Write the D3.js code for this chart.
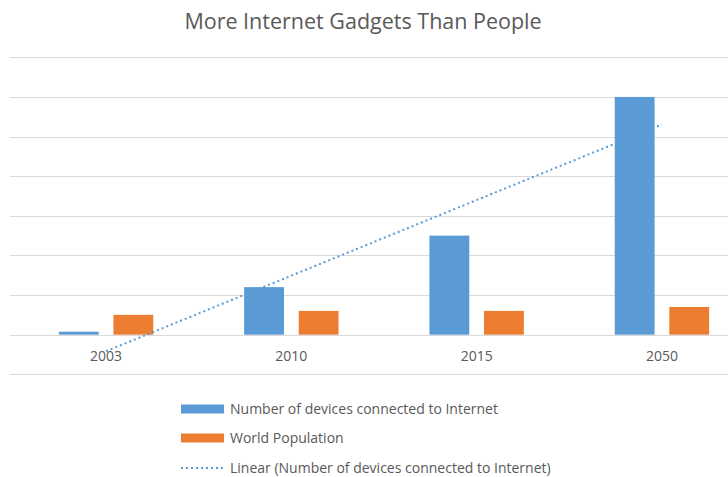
<!DOCTYPE html>
<html>
<head>
<meta charset="utf-8">
<script src="https://cdn.jsdelivr.net/npm/d3@7"></script>
<style>
	body { margin: 0; background: #fff; }
	svg { display: block; font-family: 'Open Sans', Lato, sans-serif; }
</style>
</head>
<body>
<div id="chart"></div>
<script>
	const years = ['2003', '2010', '2015', '2050']
	const devices = [0.75, 12, 25, 60]
	const population = [5, 6, 6, 7]
	const yTicks = [-10, 0, 10, 20, 30, 40, 50, 60, 70]

	const seriesNames = ['Number of devices connected to Internet', 'World Population']
	const trendName = 'Linear (Number of devices connected to Internet)'

	const width = 728
	const height = 477
	const blue = '#5b9bd5'
	const orange = '#ed7d31'
	const textColor = '#595959'
	const gridColor = '#d9d9d9'

	const svg = d3.select('#chart').append('svg').attr('width', width).attr('height', height)

	svg.append('text')
		.attr('x', 363)
		.attr('y', 29)
		.attr('text-anchor', 'middle')
		.attr('font-size', '21.5px')
		.attr('fill', textColor)
		.text('More Internet Gadgets Than People')

	const x0 = d3.scaleBand().domain(years).range([13.4, 754.6])
	const x1 = d3.scaleBand().domain([0, 1]).range([x0.bandwidth() / 2 - 47.2, x0.bandwidth() / 2 + 47.2]).paddingInner(0.27)
	const y = d3.scaleLinear().domain([-10, 70]).range([374.3, 57.3])

	// gridlines
	svg.append('g')
		.selectAll('line')
		.data(yTicks)
		.join('line')
		.attr('x1', 10)
		.attr('x2', width)
		.attr('y1', d => Math.round(y(d)) + 0.5)
		.attr('y2', d => Math.round(y(d)) + 0.5)
		.attr('stroke', gridColor)
		.attr('stroke-width', 1)

	// bars
	const rows = years.map((yr, i) => ({ year: yr, values: [devices[i], population[i]] }))
	const colors = [blue, orange]

	svg.append('g')
		.selectAll('g')
		.data(rows)
		.join('g')
		.attr('transform', d => `translate(${x0(d.year)},0)`)
		.selectAll('rect')
		.data(d => d.values.map((v, k) => ({ k, v })))
		.join('rect')
		.attr('x', d => x1(d.k))
		.attr('width', x1.bandwidth())
		.attr('y', d => y(d.v))
		.attr('height', d => y(0) - y(d.v))
		.attr('fill', d => colors[d.k])

	// axis line + labels
	svg.append('line')
		.attr('x1', 10)
		.attr('x2', width)
		.attr('y1', Math.round(y(0)) + 0.5)
		.attr('y2', Math.round(y(0)) + 0.5)
		.attr('stroke', gridColor)

	svg.append('g')
		.selectAll('text')
		.data(years)
		.join('text')
		.attr('x', d => x0(d) + x0.bandwidth() / 2)
		.attr('y', 361)
		.attr('text-anchor', 'middle')
		.attr('font-size', '14px')
		.attr('fill', textColor)
		.text(d => d)

	// linear trend for devices (least squares on category index)
	const idx = devices.map((d, i) => i + 1)
	const mx = d3.mean(idx)
	const my = d3.mean(devices)
	const slope = d3.sum(idx, (xv, i) => (xv - mx) * (devices[i] - my)) / d3.sum(idx, xv => (xv - mx) ** 2)
	const icpt = my - slope * mx
	const trend = years.map((yr, i) => [yr, icpt + slope * (i + 1)])

	svg.append('path')
		.datum([trend[0], trend[trend.length - 1]])
		.attr('d', d3.line().x(d => x0(d[0]) + x0.bandwidth() / 2).y(d => y(d[1])))
		.attr('fill', 'none')
		.attr('stroke', blue)
		.attr('stroke-width', 2)
		.attr('stroke-dasharray', '2,3')

	// legend
	const legend = svg.append('g').attr('transform', 'translate(181,0)')
	const legendItems = [
		{ name: seriesNames[0], color: blue, type: 'bar', cy: 409 },
		{ name: seriesNames[1], color: orange, type: 'bar', cy: 438 },
		{ name: trendName, color: blue, type: 'line', cy: 468 },
	]
	legendItems.forEach(item => {
		if (item.type === 'bar') {
			legend.append('rect')
				.attr('x', 0)
				.attr('y', item.cy - 4.5)
				.attr('width', 43)
				.attr('height', 9)
				.attr('fill', item.color)
		} else {
			legend.append('line')
				.attr('x1', 0)
				.attr('x2', 43)
				.attr('y1', item.cy)
				.attr('y2', item.cy)
				.attr('stroke', item.color)
				.attr('stroke-width', 2)
				.attr('stroke-dasharray', '2,3')
		}
		legend.append('text')
			.attr('x', 49)
			.attr('y', item.cy)
			.attr('dy', '0.35em')
			.attr('font-size', '14px')
			.attr('fill', textColor)
			.text(item.name)
	})
</script>
</body>
</html>
